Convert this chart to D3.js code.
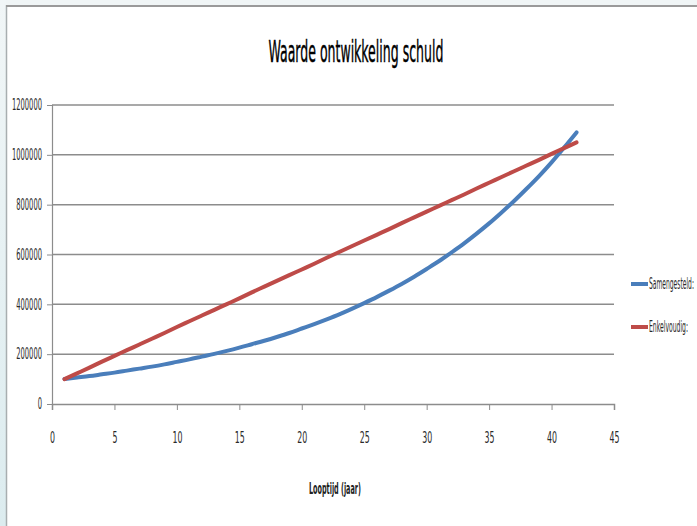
<!DOCTYPE html>
<html>
<head>
<meta charset="utf-8">
<script src="https://cdn.jsdelivr.net/npm/d3@7"></script>
<style>
  html, body { margin: 0; padding: 0; background: #eef4f6; }
  svg { display: block; }
  text { font-family: "Liberation Sans Narrow", "DejaVu Sans Condensed", "Liberation Sans", sans-serif; }
</style>
</head>
<body>
<svg id="chart" width="697" height="526"></svg>
<script>
// ---- data ----
const years = d3.range(1, 43);
const samengesteld = [100000, 106000, 112000, 119000, 126000, 134000, 142000, 150000, 159000, 169000,
  179000, 190000, 201000, 213000, 226000, 240000, 254000, 269000, 285000, 303000,
  321000, 340000, 360000, 382000, 405000, 429000, 455000, 482000, 511000, 542000,
  574000, 609000, 645000, 684000, 725000, 769000, 815000, 864000, 915000, 970000,
  1029000, 1090000];
const enkelvoudig = [100000, 123000, 146000, 170000, 193000, 216000, 239000, 262000, 285000, 309000,
  332000, 355000, 378000, 401000, 424000, 448000, 471000, 494000, 517000, 540000,
  563000, 587000, 610000, 633000, 656000, 679000, 702000, 726000, 749000, 772000,
  795000, 818000, 841000, 865000, 888000, 911000, 934000, 957000, 980000, 1004000,
  1027000, 1050000];
const xTicks = [0, 5, 10, 15, 20, 25, 30, 35, 40, 45];
const yTicks = [0, 200000, 400000, 600000, 800000, 1000000, 1200000];
const seriesNames = ["Samengesteld:", "Enkelvoudig:"];
const seriesColors = ["#4a7ebb", "#be4b48"];
const titleText = "Waarde ontwikkeling schuld";
const xTitle = "Looptijd (jaar)";

const svg = d3.select("#chart");

// background frame
const bg = svg.append("defs").append("linearGradient").attr("id", "lg").attr("x1", 0).attr("x2", 0).attr("y1", 0).attr("y2", 1);
bg.append("stop").attr("offset", "0%").attr("stop-color", "#f1f6f7");
bg.append("stop").attr("offset", "100%").attr("stop-color", "#dcecef");
svg.append("rect").attr("x", 0).attr("y", 0).attr("width", 697).attr("height", 526).attr("fill", "#f0f5f6");
svg.append("rect").attr("x", 0).attr("y", 0).attr("width", 6).attr("height", 526).attr("fill", "url(#lg)");
svg.append("rect").attr("x", 6).attr("y", 6).attr("width", 691).attr("height", 520).attr("fill", "#ffffff");
svg.append("line").attr("x1", 6.5).attr("x2", 6.5).attr("y1", 5).attr("y2", 526).attr("stroke", "#a8aeb0").attr("stroke-width", 1.5);
svg.append("line").attr("x1", 6).attr("x2", 697).attr("y1", 6).attr("y2", 6).attr("stroke", "#9a9a9a").attr("stroke-width", 2);

// scales
const x = d3.scaleLinear().domain([0, 45]).range([52, 614]);
const y = d3.scaleLinear().domain([0, 1200000]).range([404, 105]);

// helper: draw text squeezed horizontally to a target width via transform
function squeezed(parent, txt, px, py, width, anchor, attrs) {
  const g = parent.append("g");
  const t = g.append("text").attr("x", 0).attr("y", 0).text(txt);
  Object.entries(attrs).forEach(([k, v]) => t.attr(k, v));
  const natural = t.node().getComputedTextLength();
  const sx = width / natural;
  const shift = anchor === "middle" ? -width / 2 : 0;
  g.attr("transform", `translate(${px + shift},${py}) scale(${sx},1)`);
  return g;
}

// grid
svg.append("g").selectAll("line").data(yTicks.filter(d => d > 0)).join("line")
  .attr("x1", x(0)).attr("x2", x(45))
  .attr("y1", d => y(d)).attr("y2", d => y(d))
  .attr("stroke", "#8c8c8c").attr("stroke-width", 1.5);

// y axis
const yAxis = svg.append("g").attr("transform", `translate(${x(0)},0)`)
  .call(d3.axisLeft(y).tickValues(yTicks).tickSize(5).tickPadding(5).tickFormat(d3.format("d")));
yAxis.select(".domain").attr("stroke", "#8c8c8c").attr("stroke-width", 1.2);
yAxis.selectAll(".tick line").attr("stroke", "#8c8c8c");
yAxis.selectAll(".tick text").attr("font-size", 15).attr("fill", "#2a2a2a")
  .attr("textLength", d => String(d).length * 4.3).attr("lengthAdjust", "spacingAndGlyphs");

// x axis
const xAxis = svg.append("g").attr("transform", `translate(0,${y(0)})`)
  .call(d3.axisBottom(x).tickValues(xTicks).tickSize(6).tickPadding(22).tickFormat(d3.format("d")));
xAxis.select(".domain").attr("stroke", "#8c8c8c").attr("stroke-width", 1.5);
xAxis.selectAll(".tick line").attr("stroke", "#8c8c8c");
xAxis.selectAll(".tick text").attr("font-size", 16).attr("fill", "#2a2a2a")
  .attr("textLength", d => String(d).length * 5).attr("lengthAdjust", "spacingAndGlyphs");

// lines
const line = d3.line().x((d, i) => x(years[i])).y(d => y(d)).curve(d3.curveMonotoneX);
[samengesteld, enkelvoudig].forEach((s, i) => {
  svg.append("path").datum(s).attr("d", line)
    .attr("fill", "none").attr("stroke", seriesColors[i]).attr("stroke-width", 4).attr("stroke-linecap", "round");
});

// title
squeezed(svg, titleText, 356, 62, 175, "middle",
  {"font-size": 31, "fill": "#000", "stroke": "#000", "stroke-width": 0.4});

// x axis title
squeezed(svg, xTitle, 335, 494, 52, "middle",
  {"font-size": 15, "font-weight": "bold", "fill": "#222"});

// legend
const legendY = [284, 327];
const legendW = [45, 39];
seriesNames.forEach((n, i) => {
  svg.append("line").attr("x1", 631).attr("x2", 648).attr("y1", legendY[i]).attr("y2", legendY[i])
    .attr("stroke", seriesColors[i]).attr("stroke-width", 4);
  squeezed(svg, n, 649, legendY[i] + 5, legendW[i], "start",
    {"font-size": 15, "fill": "#2a2a2a"});
});
</script>
</body>
</html>
